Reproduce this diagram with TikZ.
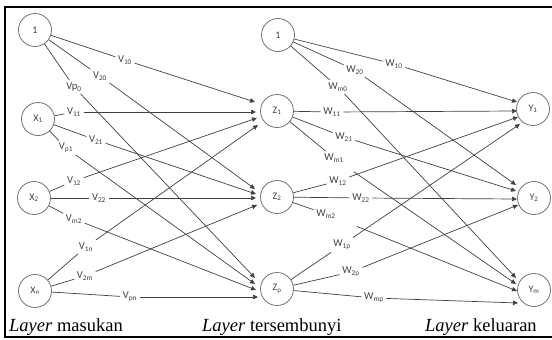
\documentclass[tikz,border=0pt]{standalone}
\usepackage{fontspec}
\setmainfont{Liberation Serif}
\newfontfamily\capfont{Liberation Serif}
\newfontfamily\labfont{Carlito}
\usetikzlibrary{arrows.meta}
\begin{document}
\begin{tikzpicture}[x=1pt,y=-1pt,
  neuron/.style={circle,draw=black!55,line width=0.8pt,minimum size=33pt,inner sep=0pt,
    font=\labfont\fontsize{10}{10}\selectfont,text=black!75},
  wlab/.style={inner sep=2.5pt,font=\labfont\fontsize{10.5}{10.5}\selectfont,text=black!75},
  conn/.style={draw=black!75,line width=0.7pt},
  arr/.style={conn,-{Triangle[length=5pt,width=4.5pt]}},
  lay/.style={anchor=base west,inner sep=0pt,font=\capfont\fontsize{18.5}{18.5}\selectfont}
]
\useasboundingbox (0,0) rectangle (552,340);
\draw[line width=2pt] (5,7) rectangle (554,337);

% neurons
\node[neuron] (I0) at (35,30) {1};
\node[neuron] (X1) at (38,119) {X\textsubscript{1}};
\node[neuron] (X2) at (34,198) {X\textsubscript{2}};
\node[neuron] (Xn) at (35,291) {X\textsubscript{n}};
\node[neuron] (H0) at (278,35) {1};
\node[neuron] (Z1) at (277,111) {Z\textsubscript{1}};
\node[neuron] (Z2) at (277,197) {Z\textsubscript{2}};
\node[neuron] (Zp) at (277,289) {Z\textsubscript{p}};
\node[neuron] (Y1) at (533,109) {Y\textsubscript{1}};
\node[neuron] (Y2) at (534,198) {Y\textsubscript{2}};
\node[neuron] (Ym) at (534,290) {Y\textsubscript{m}};

% arrow tips
\coordinate (z1a) at (255,102); \coordinate (z1b) at (256,112);
\coordinate (z1c) at (257,118); \coordinate (z1d) at (258,125);
\coordinate (z2a) at (255,189); \coordinate (z2b) at (256,194);
\coordinate (z2c) at (256,198); \coordinate (z2d) at (257,205);
\coordinate (zpa) at (255,278); \coordinate (zpb) at (255,284);
\coordinate (zpc) at (256,290); \coordinate (zpd) at (258,297);
\coordinate (y1a) at (517,102); \coordinate (y1b) at (517,111);
\coordinate (y1c) at (518,117); \coordinate (y1d) at (520,124);
\coordinate (y2a) at (516,185); \coordinate (y2b) at (516,191);
\coordinate (y2c) at (517,199); \coordinate (y2d) at (518,205);
\coordinate (yma) at (516,278); \coordinate (ymb) at (516,284);
\coordinate (ymc) at (517,291); \coordinate (ymd) at (518,303);

% weight labels, input -> hidden
\node[wlab] (v10) at (125,60) {V\textsubscript{10}};
\node[wlab] (v20) at (100,76) {V\textsubscript{20}};
\node[wlab] (vp0) at (74,87) {Vp\textsubscript{0}};
\node[wlab] (v11) at (74,112) {V\textsubscript{11}};
\node[wlab] (v21) at (96,140) {V\textsubscript{21}};
\node[wlab] (vp1) at (66,148) {V\textsubscript{p1}};
\node[wlab] (v12) at (74,181) {V\textsubscript{12}};
\node[wlab] (v22) at (99,198) {V\textsubscript{22}};
\node[wlab] (vm2) at (74,219) {V\textsubscript{m2}};
\node[wlab] (v1n) at (86,247) {V\textsubscript{1n}};
\node[wlab] (v2m) at (85,276) {V\textsubscript{2m}};
\node[wlab] (vpn) at (130,297) {V\textsubscript{pn}};

% weight labels, hidden -> output
\node[wlab] (w10) at (394,64) {W\textsubscript{10}};
\node[wlab] (w20) at (355,70) {W\textsubscript{20}};
\node[wlab] (wm0) at (338,87) {W\textsubscript{m0}};
\node[wlab] (w11) at (332,112) {W\textsubscript{11}};
\node[wlab] (w21) at (344,137) {W\textsubscript{21}};
\node[wlab] (wm1) at (334,158) {W\textsubscript{m1}};
\node[wlab] (w12) at (338,181) {W\textsubscript{12}};
\node[wlab] (w22) at (361,198) {W\textsubscript{22}};
\node[wlab] (wm2) at (326,214) {W\textsubscript{m2}};
\node[wlab] (w1p) at (342,245) {W\textsubscript{1p}};
\node[wlab] (w2p) at (351,272) {W\textsubscript{2p}};
\node[wlab] (wmp) at (374,298) {W\textsubscript{mp}};

% connectors input -> hidden
\draw[conn] (I0) -- (v10); \draw[arr] (v10) -- (z1a);
\draw[conn] (I0) -- (v20); \draw[arr] (v20) -- (z2a);
\draw[conn] (I0) -- (vp0); \draw[arr] (vp0) -- (zpa);
\draw[conn] (X1) -- (v11); \draw[arr] (v11) -- (z1b);
\draw[conn] (X1) -- (v21); \draw[arr] (v21) -- (z2b);
\draw[conn] (X1) -- (vp1); \draw[arr] (vp1) -- (zpb);
\draw[conn] (X2) -- (v12); \draw[arr] (v12) -- (z1c);
\draw[conn] (X2) -- (v22); \draw[arr] (v22) -- (z2c);
\draw[conn] (X2) -- (vm2); \draw[arr] (vm2) -- (zpc);
\draw[conn] (Xn) -- (v1n); \draw[arr] (v1n) -- (z1d);
\draw[conn] (Xn) -- (v2m); \draw[arr] (v2m) -- (z2d);
\draw[conn] (Xn) -- (vpn); \draw[arr] (vpn) -- (zpd);

% connectors hidden -> output
\draw[conn] (H0) -- (w10); \draw[arr] (w10) -- (y1a);
\draw[conn] (H0) -- (w20); \draw[arr] (w20) -- (y2a);
\draw[conn] (H0) -- (wm0); \draw[arr] (wm0) -- (yma);
\draw[conn] (Z1) -- (w11); \draw[arr] (w11) -- (y1b);
\draw[conn] (Z1) -- (w21); \draw[arr] (w21) -- (y2b);
\draw[conn] (Z1) -- (wm1); \draw[arr,shorten <=12pt] (wm1) -- (ymb);
\draw[conn] (Z2) -- (w12); \draw[arr] (w12) -- (y1c);
\draw[conn] (Z2) -- (w22); \draw[arr] (w22) -- (y2c);
\draw[conn] (Z2) -- (wm2); \draw[arr,shorten <=20pt] (wm2) -- (ymc);
\draw[conn] (Zp) -- (w1p); \draw[arr] (w1p) -- (y1d);
\draw[conn] (Zp) -- (w2p); \draw[arr] (w2p) -- (y2d);
\draw[conn] (Zp) -- (wmp); \draw[arr] (wmp) -- (ymd);

% layer captions
\node[lay] (L1) at (9,331) {\textit{Layer} masukan};
\node[lay] (L2) at (202,331) {\textit{Layer} tersembunyi};
\node[lay] (L3) at (425,331) {\textit{Layer} keluaran};
\end{tikzpicture}
\end{document}
